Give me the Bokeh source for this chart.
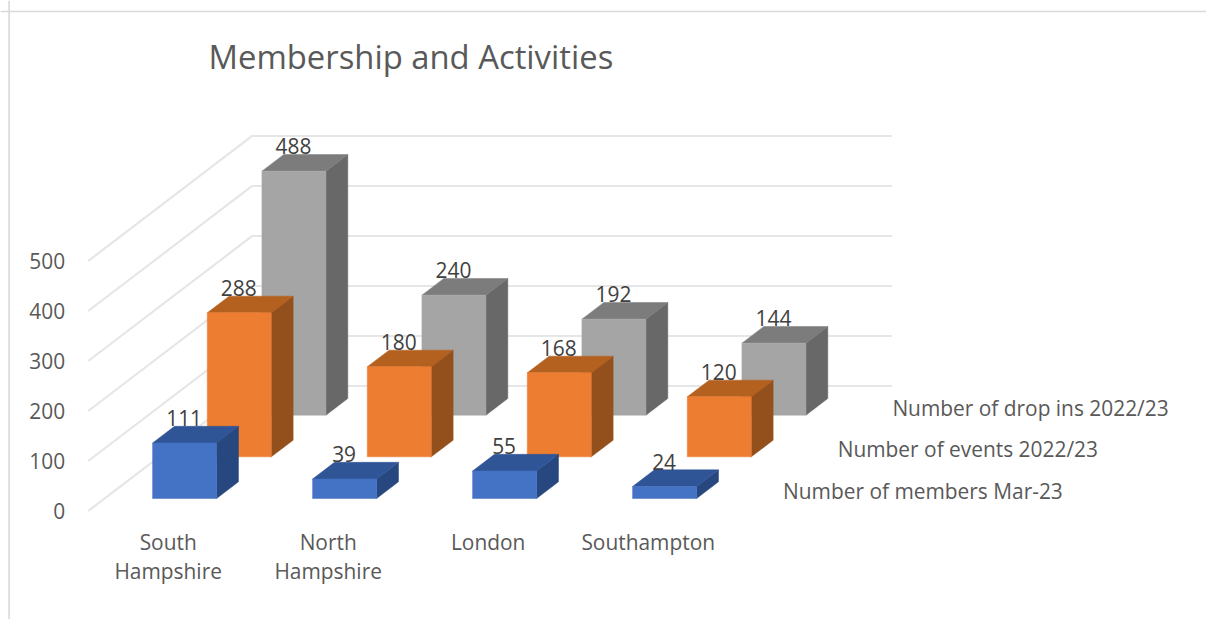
from bokeh.embed import file_html
from bokeh.resources import INLINE
from bokeh.plotting import figure
from bokeh.models import ColumnDataSource, FixedTicker, Range1d, Span
from bokeh.core.properties import value

# ---- data ----
title_text = "Membership and Activities"
categories = ["South\nHampshire", "North\nHampshire", "London", "Southampton"]
series_names = ["Number of members Mar-23", "Number of events 2022/23", "Number of drop ins 2022/23"]
members = [111, 39, 55, 24]
events = [288, 180, 168, 120]
drop_ins = [488, 240, 192, 144]
y_ticks = [0, 100, 200, 300, 400, 500]

# ---- styling ----
FONT = "Open Sans"
TEXT_SIZE = "20.9px"
front_colors = ["#4472C4", "#ED7D31", "#A5A5A5"]
top_colors = ["#2F5597", "#B4601F", "#7C7C7C"]
side_colors = ["#27477F", "#94501C", "#686868"]
GRID = "#E6E6E6"
BORDER = "#D9D9D9"
AXIS_TEXT = "#595959"
LABEL_TEXT = "#404040"

# ---- oblique projection: x in category units, y in value units ----
PX_X, PX_Y = 160.0, 0.5          # px per category, px per value unit
ORIGIN_X, ORIGIN_Y = 87.7, 510.5 # page px of the floor's front-left corner
SLOT_DX, SLOT_DY = 54.67 / PX_X, 41.67 / PX_Y  # shift per depth slot
PAGE_W, PAGE_H = 1206, 619


def px_x(x):
    return (x - ORIGIN_X) / PX_X


def px_y(y):
    return (ORIGIN_Y - y) / PX_Y


def project(cat, depth, val):
    return cat + depth * SLOT_DX, val + depth * SLOT_DY


p = figure(
    width=PAGE_W, height=PAGE_H, output_backend="svg", toolbar_location=None,
    x_range=Range1d(px_x(0), px_x(PAGE_W)),
    y_range=Range1d(px_y(PAGE_H), px_y(0)),
    min_border=0, min_border_left=0, min_border_right=0, min_border_top=0, min_border_bottom=0,
    outline_line_color=None, background_fill_color="white", border_fill_color="white",
)
p.grid.visible = False

# chart border
p.add_layout(Span(location=px_x(8.6), dimension="height", line_color=BORDER, line_width=1.6))
p.add_layout(Span(location=px_y(11), dimension="width", line_color=BORDER, line_width=1.6))

# walls' grid
n_cat = len(categories)
n_series = len(series_names)
for t in y_ticks:
    xs, ys = zip(project(0, 0, t), project(0, n_series, t), project(n_cat, n_series, t))
    p.line(list(xs), list(ys), line_color=GRID, line_width=2.2)

# bars, back to front
GAP = 0.3
all_series = [members, events, drop_ins]
for s in reversed(range(n_series)):
    faces = {"xs": [], "ys": [], "c": []}
    for c, v in enumerate(all_series[s]):
        x0, x1 = c + GAP, c + 1 - GAP
        d0, d1 = s + GAP, s + 1 - GAP
        quads = [
            ([(x1, d0, 0), (x1, d1, 0), (x1, d1, v), (x1, d0, v)], side_colors[s]),
            ([(x0, d0, v), (x1, d0, v), (x1, d1, v), (x0, d1, v)], top_colors[s]),
            ([(x0, d0, 0), (x1, d0, 0), (x1, d0, v), (x0, d0, v)], front_colors[s]),
        ]
        for corners, color in quads:
            pts = [project(*q) for q in corners]
            faces["xs"].append([a for a, _ in pts])
            faces["ys"].append([b for _, b in pts])
            faces["c"].append(color)
    p.patches("xs", "ys", source=ColumnDataSource(faces), fill_color="c", line_color="c", line_width=0.5)

# data labels on the bars
for s in range(n_series):
    lx, ly, lt = [], [], []
    for c, v in enumerate(all_series[s]):
        _, b = project(c + 0.5, s + 1 - GAP, v)
        a0, _ = project(c + 0.5, s + GAP, v)
        lx.append(a0 - 0.5 / PX_X)
        ly.append(b + 8 / PX_Y)
        lt.append(str(v))
    p.text(lx, ly, text=lt, text_font=value(FONT), text_font_size=TEXT_SIZE, text_color=LABEL_TEXT,
           text_align="center", text_baseline="middle")

# depth axis names
for s, name in enumerate(series_names):
    a, b = project(n_cat, s + 0.5, 0)
    p.text([a + 27.5 / PX_X], [b - 1 / PX_Y], text=[name], text_font=value(FONT), text_font_size=TEXT_SIZE,
           text_color=AXIS_TEXT, text_align="left", text_baseline="middle")

# title
p.text([px_x(208)], [px_y(56)], text=[title_text], text_font=value(FONT), text_font_size="32.8px",
       text_color=AXIS_TEXT, text_align="left", text_baseline="middle")

# axes
ya = p.yaxis[0]
ya.fixed_location = 0
ya.ticker = FixedTicker(ticks=y_ticks)
ya.axis_line_color = None
ya.major_tick_line_color = None
ya.minor_tick_line_color = None
ya.major_label_standoff = 17
ya.major_label_text_font = FONT
ya.major_label_text_font_size = TEXT_SIZE
ya.major_label_text_color = AXIS_TEXT

xa = p.xaxis[0]
xa.fixed_location = 0
xa.ticker = FixedTicker(ticks=[c + 0.5 for c in range(n_cat)])
xa.major_label_overrides = {c + 0.5: name for c, name in enumerate(categories)}
xa.axis_line_color = None
xa.major_tick_line_color = None
xa.minor_tick_line_color = None
xa.major_label_standoff = 11
xa.major_label_text_font = FONT
xa.major_label_text_font_size = TEXT_SIZE
xa.major_label_text_color = AXIS_TEXT
xa.major_label_text_line_height = 1.03

open("out.html", "w").write(file_html(p, INLINE))
